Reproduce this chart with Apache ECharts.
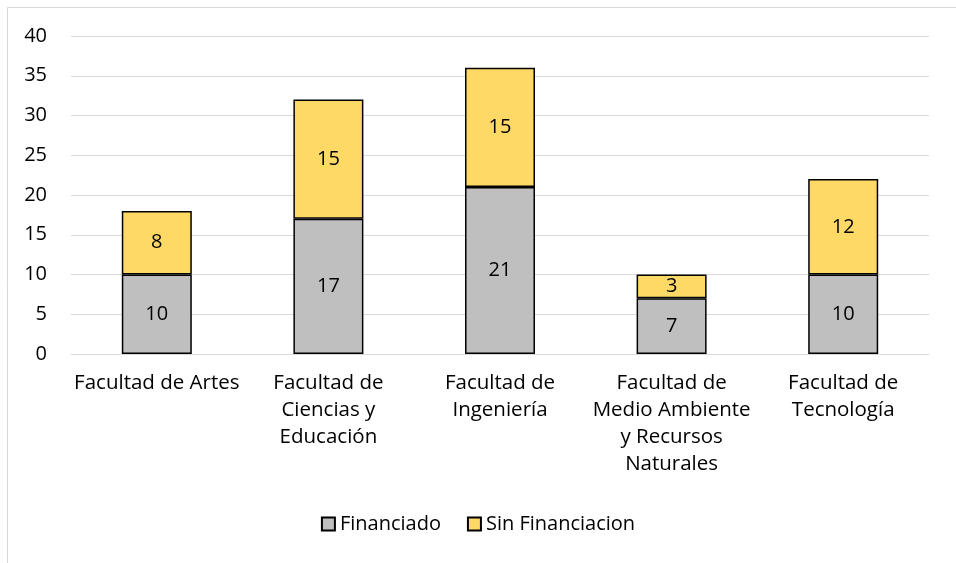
<!DOCTYPE html>
<html>
<head>
<meta charset="utf-8">
<script src="https://cdn.jsdelivr.net/npm/echarts@6/dist/echarts.min.js"></script>
<style>
html, body { margin: 0; padding: 0; background: #fff; }
#chart { width: 956px; height: 563px; }
</style>
</head>
<body>
<div id="chart"></div>
<script>
var categories = ['Facultad de Artes', 'Facultad de\nCiencias y\nEducación', 'Facultad de\nIngeniería', 'Facultad de\nMedio Ambiente\ny Recursos\nNaturales', 'Facultad de\nTecnología'];
var financiado = [10, 17, 21, 7, 10];
var sinFinanciacion = [8, 15, 15, 3, 12];

var fontFam = '"Open Sans", "Noto Sans", sans-serif';
var chart = echarts.init(document.getElementById('chart'));
var option = {
    backgroundColor: '#fff',
    textStyle: { fontFamily: fontFam },
    graphic: [{
        type: 'rect',
        shape: { x: 7.5, y: 7.5, width: 960, height: 570 },
        style: { fill: 'none', stroke: '#d9d9d9', lineWidth: 1 },
        silent: true
    }],
    grid: { left: 71, right: 27, top: 36, bottom: 209 },
    legend: {
        bottom: 24,
        left: 'center',
        icon: 'rect',
        itemWidth: 13,
        itemHeight: 13,
        itemGap: 26,
        textStyle: { fontSize: 20, color: '#000', fontFamily: fontFam },
        data: ['Financiado', 'Sin Financiacion']
    },
    xAxis: {
        type: 'category',
        data: categories,
        axisLine: { lineStyle: { color: '#d9d9d9', width: 1 } },
        axisTick: { show: false },
        axisLabel: { color: '#000', fontSize: 20.5, lineHeight: 27, margin: 16, interval: 0, fontFamily: fontFam }
    },
    yAxis: {
        type: 'value',
        min: 0,
        max: 40,
        interval: 5,
        axisLine: { show: false },
        axisTick: { show: false },
        splitLine: { lineStyle: { color: '#d9d9d9', width: 1 } },
        axisLabel: { color: '#000', fontSize: 20, margin: 24, fontFamily: fontFam }
    },
    series: [
        {
            name: 'Financiado',
            type: 'bar',
            stack: 'total',
            barWidth: 70,
            data: financiado,
            itemStyle: { color: '#bfbfbf', borderColor: '#000', borderWidth: 1.5 },
            label: { show: true, position: 'inside', color: '#000', fontSize: 20, fontFamily: fontFam }
        },
        {
            name: 'Sin Financiacion',
            type: 'bar',
            stack: 'total',
            barWidth: 70,
            data: sinFinanciacion,
            itemStyle: { color: '#ffd966', borderColor: '#000', borderWidth: 1.5 },
            label: { show: true, position: 'inside', color: '#000', fontSize: 20, fontFamily: fontFam }
        }
    ]
};
chart.setOption(option);
</script>
</body>
</html>
